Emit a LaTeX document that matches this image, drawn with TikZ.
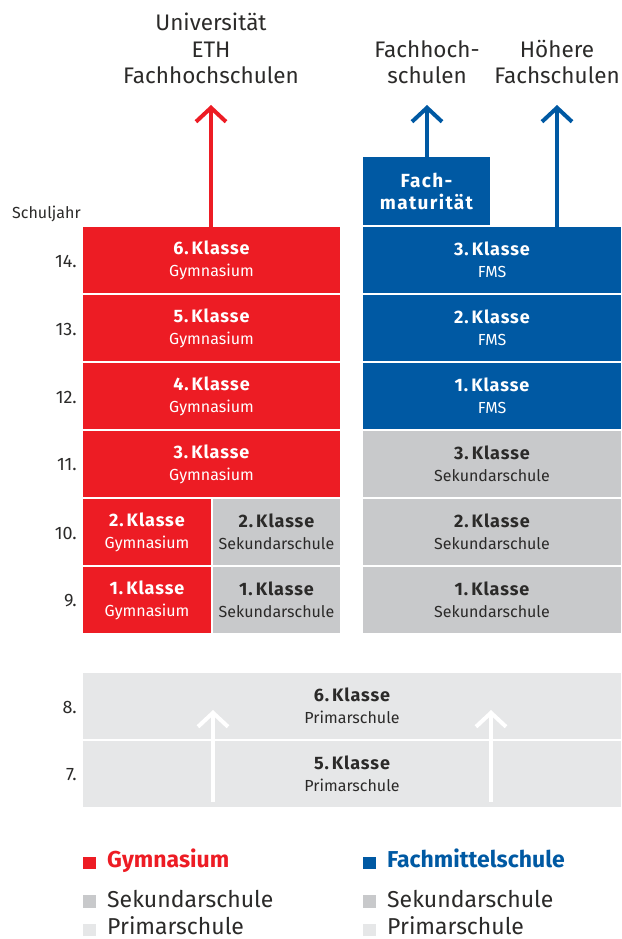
\documentclass[tikz,border=0pt]{standalone}
\usepackage{fontspec}
\setmainfont{Fira Sans}
\usetikzlibrary{arrows.meta}
\definecolor{gymred}{HTML}{ED1C24}
\definecolor{fmsblue}{HTML}{0059A3}
\definecolor{sekgrey}{HTML}{C8C9CB}
\definecolor{primgrey}{HTML}{E6E7E8}
\definecolor{txt}{HTML}{2B2A29}
\newcommand\kl[2]{{\fontsize{18}{22}\selectfont\bfseries\addfontfeature{LetterSpace=5}#1}\\{\fontsize{16}{22}\selectfont #2}}
\begin{document}
\begin{tikzpicture}[x=1pt,y=-1pt,
  cell/.style={inner sep=0pt, minimum height=66pt, align=center, anchor=center,
    font=\fontsize{16}{22}\selectfont},
  redfull/.style={cell, fill=gymred, text=white, minimum width=257pt},
  redhalf/.style={cell, fill=gymred, text=white, minimum width=128pt},
  sekhalf/.style={cell, fill=sekgrey, text=txt, minimum width=127pt},
  bluecell/.style={cell, fill=fmsblue, text=white, minimum width=258pt},
  sekright/.style={cell, fill=sekgrey, text=txt, minimum width=258pt},
  primcell/.style={cell, fill=primgrey, text=txt, minimum width=538pt},
  yearlbl/.style={anchor=east, inner sep=0pt, text=txt, font=\fontsize{18}{20}\selectfont},
  toplbl/.style={anchor=south, inner sep=0pt, align=center, text=txt, font=\fontsize{22.5}{26.5}\selectfont},
  legsq/.style={inner sep=0pt, minimum size=12.5pt, anchor=center},
  legtxt/.style={anchor=base west, inner sep=0pt, font=\fontsize{23}{26}\selectfont, text=txt},
  legbold/.style={legtxt, font=\fontsize{23}{26}\selectfont\bfseries},
  uparrow/.style={line width=4pt, -{Straight Barb[length=14pt,width=30pt]}},
]
\useasboundingbox (0,0) rectangle (621,939);

% Gymnasium column
\node[redfull] (g14) at (211.5,260) {\kl{6.\,Klasse}{Gymnasium}};
\node[redfull] (g13) at (211.5,328) {\kl{5.\,Klasse}{Gymnasium}};
\node[redfull] (g12) at (211.5,396) {\kl{4.\,Klasse}{Gymnasium}};
\node[redfull] (g11) at (211.5,464) {\kl{3.\,Klasse}{Gymnasium}};
\node[redhalf] (g10) at (147,532) {\kl{2.\,Klasse}{Gymnasium}};
\node[redhalf] (g9)  at (147,600) {\kl{1.\,Klasse}{Gymnasium}};
\node[sekhalf] (s10) at (276.5,532) {\kl{2.\,Klasse}{Sekundarschule}};
\node[sekhalf] (s9)  at (276.5,600) {\kl{1.\,Klasse}{Sekundarschule}};

% FMS column
\node[cell, fill=fmsblue, text=white, minimum width=127pt, minimum height=68pt,
  font=\fontsize{19}{22}\selectfont\bfseries\addfontfeature{LetterSpace=7}] (fm) at (426.5,191) {Fach-\\maturität};
\node[bluecell] (f14) at (492,260) {\kl{3.\,Klasse}{FMS}};
\node[bluecell] (f13) at (492,328) {\kl{2.\,Klasse}{FMS}};
\node[bluecell] (f12) at (492,396) {\kl{1.\,Klasse}{FMS}};
\node[sekright] (r11) at (492,464) {\kl{3.\,Klasse}{Sekundarschule}};
\node[sekright] (r10) at (492,532) {\kl{2.\,Klasse}{Sekundarschule}};
\node[sekright] (r9)  at (492,600) {\kl{1.\,Klasse}{Sekundarschule}};

% Primarschule
\node[primcell] (p8) at (352,706) {\kl{6.\,Klasse}{Primarschule}};
\node[primcell] (p7) at (352,774) {\kl{5.\,Klasse}{Primarschule}};

% Year labels
\node[anchor=base west, inner sep=0pt, text=txt, font=\fontsize{16}{18}\selectfont] (sj) at (12,218) {Schuljahr};
\node[yearlbl] (y14) at (77,261) {14.};
\node[yearlbl] (y13) at (77,329) {13.};
\node[yearlbl] (y12) at (77,397) {12.};
\node[yearlbl] (y11) at (77,465) {11.};
\node[yearlbl] (y10) at (77,533) {10.};
\node[yearlbl] (y9)  at (77,601) {9.};
\node[yearlbl] (y8)  at (77,707) {8.};
\node[yearlbl] (y7)  at (77,775) {7.};

% Top destinations
\node[toplbl] (uni) at (211,84) {Universität\\ETH\\Fachhochschulen};
\node[toplbl] (fh) at (427,84) {Fachhoch-\\schulen};
\node[toplbl] (hf) at (557,84) {Höhere\\Fachschulen};

% Arrows
\coordinate (tipR) at (211,105);
\coordinate (tipB1) at (427,105);
\coordinate (tipB2) at (557,105);
\draw[uparrow, gymred] (g14.north -| tipR) -- (tipR);
\draw[uparrow, fmsblue] (fm.north -| tipB1) -- (tipB1);
\draw[uparrow, fmsblue] (f14.north -| tipB2) -- (tipB2);

\coordinate (wa1s) at (213,802);
\coordinate (wa1t) at (213,710);
\coordinate (wa2s) at (491,802);
\coordinate (wa2t) at (491,710);
\draw[uparrow, white] (wa1s) -- (wa1t);
\draw[uparrow, white] (wa2s) -- (wa2t);

% Legend
\node[legsq, fill=gymred] (lq1) at (89.5,863) {};
\node[legbold, text=gymred] (lt1) at (107,867) {Gymnasium};
\node[legsq, fill=sekgrey] (lq2) at (89.5,901.5) {};
\node[legtxt] (lt2) at (107,907) {Sekundarschule};
\node[legsq, fill=primgrey] (lq3) at (89.5,930) {};
\node[legtxt] (lt3) at (107,934) {Primarschule};

\node[legsq, fill=fmsblue] (rq1) at (369.5,863) {};
\node[legbold, text=fmsblue] (rt1) at (387,867) {Fachmittelschule};
\node[legsq, fill=sekgrey] (rq2) at (369.5,901.5) {};
\node[legtxt] (rt2) at (387,907) {Sekundarschule};
\node[legsq, fill=primgrey] (rq3) at (369.5,930) {};
\node[legtxt] (rt3) at (387,934) {Primarschule};
\end{tikzpicture}
\end{document}
